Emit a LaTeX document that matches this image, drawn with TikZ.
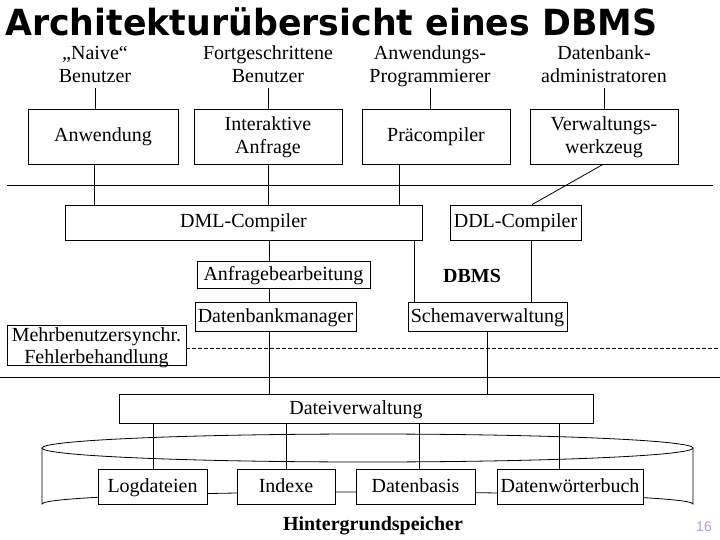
\documentclass[tikz,border=0pt]{standalone}
\usepackage{fontspec}
\setmainfont{Liberation Serif}
\newfontfamily\titlefont{DejaVu Sans}
\newfontfamily\numfont{Liberation Sans}
\definecolor{pagenum}{RGB}{190,150,215}
\newcommand{\lnstrut}{\rule[-6pt]{0pt}{23pt}}
\begin{document}
\begin{tikzpicture}[x=1pt,y=-1pt,
  txt/.style={font=\fontsize{20}{23}\selectfont, inner sep=0pt, align=center},
  bx/.style={txt, draw, line width=0.8pt},
  conn/.style={line width=0.8pt}]
\useasboundingbox[fill=white] (0,0) rectangle (720,540);

% title
\node[anchor=base west, inner sep=0pt] (title) at (5,36)
  {\resizebox{652pt}{\height}{\titlefont\bfseries\fontsize{36}{40}\selectfont Architekturübersicht eines DBMS}};

% user labels
\node[txt] (l1) at (95,66) {\lnstrut„Naive“\\\lnstrut Benutzer};
\node[txt] (l2) at (268,66) {\lnstrut Fortgeschrittene\\\lnstrut Benutzer};
\node[txt] (l3) at (430,66) {\lnstrut Anwendungs-\\\lnstrut Programmierer};
\node[txt] (l4) at (604,66) {\lnstrut Datenbank-\\\lnstrut administratoren};

% helper coordinates
\coordinate (ytop) at (0,88);
\coordinate (x94) at (94,0);
\coordinate (x399) at (399,0);
\coordinate (x414) at (414,0);
\coordinate (x531) at (531,0);
\coordinate (x269) at (269,0);
\coordinate (x487) at (487,0);
\coordinate (x559) at (559,0);
\coordinate (x153) at (153,0);
\coordinate (x286) at (286,0);
\coordinate (x419) at (419,0);
\coordinate (vwzb) at (603,0);
\coordinate (ddlt) at (532,0);

% application layer boxes
\node[bx, minimum width=150, minimum height=55] (anw) at (103,136.5) {\lnstrut Anwendung};
\node[bx, minimum width=148, minimum height=55] (ian) at (268,136.5) {\lnstrut Interaktive\\\lnstrut Anfrage};
\node[bx, minimum width=148, minimum height=55] (pre) at (436,136.5) {\lnstrut Präcompiler};
\node[bx, minimum width=148, minimum height=55] (vwz) at (604,136.5) {\lnstrut Verwaltungs-\\\lnstrut werkzeug};

\draw[conn] (l1 |- ytop) -- (anw.north -| l1);
\draw[conn] (l2 |- ytop) -- (ian.north -| l2);
\draw[conn] (l3 |- ytop) -- (pre.north -| l3);
\draw[conn] (l4 |- ytop) -- (vwz.north -| l4);

% separator line 1
\coordinate (h1a) at (7,185);
\coordinate (h1b) at (713,185);
\draw[conn] (h1a) -- (h1b);

% compilers
\node[bx, minimum width=357, minimum height=35] (dml) at (243.5,222.5) {\lnstrut DML-Compiler};
\node[bx, minimum width=131, minimum height=35] (ddl) at (515.5,222.5) {\lnstrut DDL-Compiler};

\draw[conn] (anw.south -| x94) -- (dml.north -| x94);
\draw[conn] (ian.south) -- (dml.north -| ian);
\draw[conn] (pre.south -| x399) -- (dml.north -| x399);
\draw[conn] (vwz.south -| vwzb) -- (ddl.north -| ddlt);

% DBMS core
\node[bx, minimum width=173, minimum height=27] (afb) at (283.5,274.5) {\lnstrut Anfragebearbeitung};
\node[bx, minimum width=161, minimum height=29] (dbm) at (275.5,316.5) {\lnstrut Datenbankmanager};
\node[bx, minimum width=159, minimum height=29] (sch) at (487.5,316.5) {\lnstrut Schemaverwaltung};
\node[txt, font=\fontsize{20}{23}\selectfont\bfseries] (dbms) at (472,277) {\lnstrut DBMS};

\draw[conn] (dml.south -| x269) -- (afb.north -| x269);
\draw[conn] (afb.south -| x269) -- (dbm.north -| x269);
\draw[conn] (dml.south -| x414) -- (sch.north -| x414);
\draw[conn] (ddl.south -| x531) -- (sch.north -| x531);

% Mehrbenutzersynchr.
\node[draw, line width=0.8pt, minimum width=179, minimum height=40, inner sep=0pt] (mfb) at (96.5,345) {};
\node[txt] (mfbt1) at (96.5,335.5) {\lnstrut Mehrbenutzersynchr.};
\node[txt] (mfbt2) at (96.5,357.5) {\lnstrut Fehlerbehandlung};
\coordinate (dashR) at (720,348);
\draw[conn, dash pattern=on 4pt off 2pt] (mfb.east |- dashR) -- (dashR);

% separator line 2
\coordinate (h2a) at (0,377);
\coordinate (h2b) at (720,377);
\draw[conn] (h2a) -- (h2b);

% file management
\node[bx, minimum width=474, minimum height=29] (dv) at (356,408.5) {\lnstrut Dateiverwaltung};
\draw[conn] (dbm.south -| x269) -- (dv.north -| x269);
\draw[conn] (sch.south -| x487) -- (dv.north -| x487);

% cylinder (Hintergrundspeicher)
\draw[conn] (367.5,448) ellipse [x radius=325.5, y radius=14];
\draw[conn] (42,448) -- (42,504) arc[start angle=180, end angle=360, x radius=325.5, y radius=12] -- (693,448);

% storage boxes
\node[bx, fill=white, minimum width=109, minimum height=35] (log) at (152.5,486.5) {\lnstrut Logdateien};
\node[bx, fill=white, minimum width=98, minimum height=35] (idx) at (286,486.5) {\lnstrut Indexe};
\node[bx, fill=white, minimum width=119, minimum height=35] (dba) at (415.5,486.5) {\lnstrut Datenbasis};
\node[bx, fill=white, minimum width=146, minimum height=35] (dwb) at (570,486.5) {\lnstrut Datenwörterbuch};

\draw[conn] (dv.south -| x153) -- (log.north -| x153);
\draw[conn] (dv.south -| x286) -- (idx.north -| x286);
\draw[conn] (dv.south -| x419) -- (dba.north -| x419);
\draw[conn] (dv.south -| x559) -- (dwb.north -| x559);

\node[txt, font=\fontsize{20}{23}\selectfont\bfseries] (hgs) at (373,525) {\lnstrut Hintergrundspeicher};
\node[inner sep=0pt, text=pagenum, font=\numfont\fontsize{14}{16}\selectfont] (pnum) at (704,527) {16};
\end{tikzpicture}
\end{document}
